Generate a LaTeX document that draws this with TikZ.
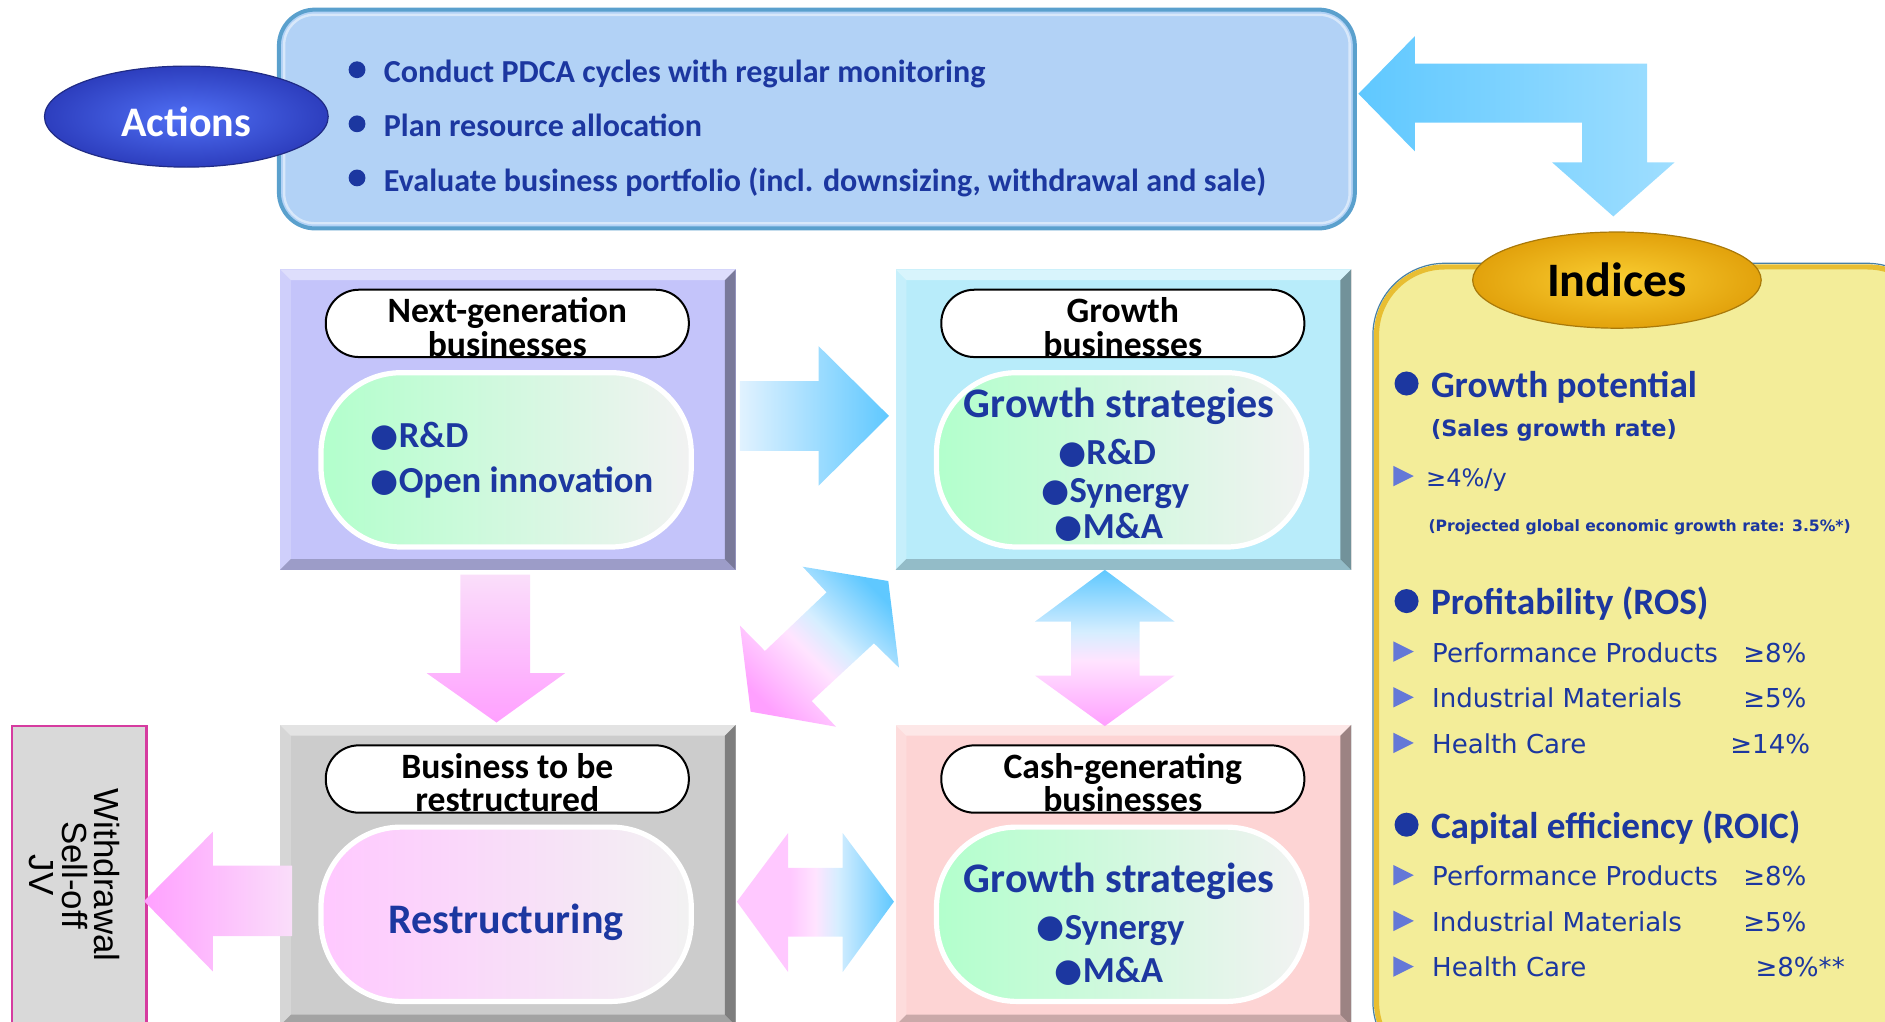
\documentclass[tikz,border=0pt]{standalone}
\usepackage{fontspec}
\usepackage{graphicx}
\setmainfont{Carlito}
\newfontfamily\dejavu{DejaVu Sans}
\newfontfamily\arialf{Liberation Sans}
\usetikzlibrary{calc,shapes.geometric}

\newcommand\fs[2]{\fontsize{#1}{#2}\selectfont}
\newcommand\bul{\raisebox{0.03em}{\scalebox{0.88}{\dejavu ●}}}

\definecolor{tblue}{RGB}{28,55,160}
\definecolor{lav}{RGB}{196,196,250}
\definecolor{cyanbox}{RGB}{184,236,250}
\definecolor{graybox}{RGB}{204,204,204}
\definecolor{pinkbox}{RGB}{253,212,212}
\definecolor{actfill}{RGB}{178,210,246}
\definecolor{actline}{RGB}{90,160,205}
\definecolor{indfill}{RGB}{243,237,153}
\definecolor{indline}{RGB}{232,190,50}
\definecolor{arrblue}{RGB}{95,200,255}
\definecolor{arrpale}{RGB}{225,242,255}
\definecolor{arrmid}{RGB}{205,235,252}
\definecolor{bluewhite}{RGB}{214,238,255}
\definecolor{pinkwhite}{RGB}{255,228,255}
\definecolor{arrpink}{RGB}{255,160,255}
\definecolor{arrpinkL}{RGB}{255,200,255}
\definecolor{arrpinkpale}{RGB}{250,222,250}
\definecolor{trib}{RGB}{100,120,215}
\definecolor{pillgreen}{RGB}{178,255,204}
\definecolor{pillgray}{RGB}{242,242,242}
\definecolor{pillpink}{RGB}{255,200,255}
\definecolor{wdline}{RGB}{214,60,160}
\definecolor{wdfill}{RGB}{217,217,217}
\definecolor{actblueA}{RGB}{80,112,245}
\definecolor{actblueB}{RGB}{45,62,190}
\definecolor{goldA}{RGB}{250,206,50}
\definecolor{goldB}{RGB}{226,162,12}

% blue at the top, pink at the bottom
\pgfdeclareverticalshading{bluepinkV}{100bp}{color(0bp)=(arrpink); color(25bp)=(arrpink);
  color(46bp)=(pinkwhite); color(55bp)=(bluewhite); color(75bp)=(arrblue); color(100bp)=(arrblue)}
% pink on the left, blue on the right
\pgfdeclarehorizontalshading{pinkblueH}{100bp}{color(0bp)=(arrpinkL); color(25bp)=(arrpinkL);
  color(42bp)=(arrpinkL); color(50bp)=(pinkwhite); color(57bp)=(bluewhite); color(75bp)=(arrblue); color(100bp)=(arrblue)}

% raised edge of a business box
\newcommand\bevel[1]{%
  \fill[white,opacity=.45] (#1.north west) -- (#1.north east) -- ($(#1.north east)+(-9,9)$) -- ($(#1.north west)+(9,9)$) -- cycle;
  \fill[white,opacity=.2] (#1.north west) -- ($(#1.north west)+(9,9)$) -- ($(#1.south west)+(9,-9)$) -- (#1.south west) -- cycle;
  \fill[black,opacity=.38] (#1.north east) -- (#1.south east) -- ($(#1.south east)+(-9,-9)$) -- ($(#1.north east)+(-9,9)$) -- cycle;
  \fill[black,opacity=.2] (#1.south west) -- (#1.south east) -- ($(#1.south east)+(-9,-9)$) -- ($(#1.south west)+(9,-9)$) -- cycle;
}

\begin{document}
\begin{tikzpicture}[x=0.6pt,y=-0.6pt,
  bizbox/.style={rectangle, inner sep=0pt, outer sep=0pt, minimum width=227.4pt, minimum height=150pt},
  tagpill/.style={draw=black, line width=1pt, fill=white, rounded corners=16.5pt,
    minimum width=181.2pt, minimum height=33.6pt, inner sep=0pt},
  tagtext/.style={align=center, inner sep=0pt, font=\bfseries\fs{17.8}{16.6}},
  corepill/.style={draw=white, line width=2.6pt, rounded corners=40pt,
    minimum width=184.8pt, minimum height=87pt, inner sep=0pt},
  lowered/.style={yshift=-1.8pt},
  item/.style={lowered, text=tblue, font=\bfseries\fs{18.3}{20}, inner sep=0pt, text height=12pt, text depth=3.5pt},
  strat/.style={lowered, text=tblue, font=\bfseries\fs{21}{24}, inner sep=0pt, text height=14pt, text depth=4pt},
  acttext/.style={lowered, text=tblue, font=\bfseries\fs{16}{18}, inner sep=0pt, text height=10.5pt, text depth=3pt, anchor=west},
  ihead/.style={lowered, text=tblue, font=\bfseries\fs{18.6}{20}, inner sep=0pt, text height=12.5pt, text depth=3.5pt, anchor=west},
  isub/.style={lowered, text=tblue, font=\dejavu\bfseries\fs{11.2}{13}, inner sep=0pt, text height=8pt, text depth=2.2pt, anchor=west},
  inote/.style={lowered, text=tblue, font=\dejavu\bfseries\fs{7.8}{9}, inner sep=0pt, text height=5.6pt, text depth=1.6pt, anchor=west},
  iitem/.style={lowered, text=tblue, font=\dejavu\fs{13}{15}, inner sep=0pt, text height=9.4pt, text depth=2.6pt},
  tri/.style={fill=trib},
  toblue/.style={left color=arrpale, right color=arrblue},
]
\useasboundingbox (0,0) rectangle (1568,850);
\clip (0,0) rectangle (1568,850);

% ---------- Actions ----------
\node[rectangle, rounded corners=18pt, minimum width=537pt, minimum height=109.2pt,
      fill=actfill, draw=actline, line width=2pt, inner sep=0pt] (actions) at (679.5,99) {};
\draw[white, opacity=.5, line width=1.2pt, rounded corners=15pt]
  ($(actions.north west)+(6,6)$) rectangle ($(actions.south east)+(-6,-6)$);
\node[ellipse, minimum width=141.6pt, minimum height=50.4pt, inner color=actblueA, outer color=actblueB,
      draw=actblueB!70!black, line width=.6pt, inner sep=0pt] (actlabel) at (155,97) {};
\node[text=white, font=\bfseries\fs{21}{24}, inner sep=0pt] (actlabelText) at (155,101) {Actions};

\fill[tblue] (297,58) circle (7);
\fill[tblue] (297,103) circle (7);
\fill[tblue] (297,148) circle (7);
\node[acttext] (act1) at (319,59) {Conduct PDCA cycles with regular monitoring};
\node[acttext] (act2) at (319,104) {Plan resource allocation};
\node[acttext] (act3) at (319,150) {Evaluate business portfolio (incl. downsizing, withdrawal and sale)};

% ---------- Indices ----------
\draw[fill=indfill, draw=indline, line width=2.6pt, rounded corners=34pt] (1145,222) rectangle (1610,890);
\draw[draw=actline!80!black, line width=.6pt, rounded corners=36pt] (1142,219) rectangle (1613,893);

% feedback arrow between actions and indices
\shade[left color=arrblue, middle color=arrmid, right color=arrblue!60!white]
  (1130,78) -- (1177,30) -- (1177,53) -- (1370,53) -- (1370,135) -- (1393,135) -- (1342,180)
  -- (1291,135) -- (1316,135) -- (1316,102) -- (1177,102) -- (1177,126) -- cycle;

\node[ellipse, minimum width=144pt, minimum height=48pt, inner color=goldA, outer color=goldB,
      draw=goldB!75!black, line width=.6pt, font=\bfseries\fs{24}{28}] (indlabel) at (1345,233) {Indices};

\fill[tblue] (1170,319) circle (10);
\node[ihead] (gp) at (1190,320) {Growth potential};
\node[isub] (gpsub) at (1190,355) {(Sales growth rate)};
\fill[tri] (1159,387.5) -- (1176,396) -- (1159,404.5) -- cycle;
\node[iitem, anchor=west, font=\dejavu\fs{12}{14}] (gpval) at (1186,396) {≥4\%/y};
\node[inote] (gpnote) at (1188,436) {(Projected global economic growth rate: 3.5\%*)};

\fill[tblue] (1170,500) circle (10);
\node[ihead] (ros) at (1190,501) {Profitability (ROS)};
\foreach \yy/\nm/\vv/\sfx in {542/Performance Products/≥8\%/a, 580/Industrial Materials/≥5\%/b} {
  \fill[tri] (1159,\yy-8.5) -- (1176,\yy) -- (1159,\yy+8.5) -- cycle;
  \node[iitem, anchor=west] (ros\sfx) at (1191,\yy) {\nm};
  \node[iitem, anchor=east] (rosv\sfx) at (1503,\yy) {\vv};
}
\fill[tri] (1159,609.5) -- (1176,618) -- (1159,626.5) -- cycle;
\node[iitem, anchor=west] (rosc) at (1191,618) {Health Care};
\node[iitem, anchor=east] (rosvc) at (1506,618) {≥14\%};

\fill[tblue] (1170,686) circle (10);
\node[ihead] (roic) at (1190,687) {Capital efficiency (ROIC)};
\foreach \yy/\nm/\vv/\sfx in {728/Performance Products/≥8\%/a, 766/Industrial Materials/≥5\%/b} {
  \fill[tri] (1159,\yy-8.5) -- (1176,\yy) -- (1159,\yy+8.5) -- cycle;
  \node[iitem, anchor=west] (roic\sfx) at (1191,\yy) {\nm};
  \node[iitem, anchor=east] (roicv\sfx) at (1503,\yy) {\vv};
}
\fill[tri] (1159,795.5) -- (1176,804) -- (1159,812.5) -- cycle;
\node[iitem, anchor=west] (roicc) at (1191,804) {Health Care};
\node[iitem, anchor=west] (roicvc) at (1460,804) {≥8\%**};

% ---------- Business boxes ----------
\node[bizbox, fill=lav] (nextgen) at (422.5,349) {};
\bevel{nextgen}
\node[tagpill] (nextgenTag) at (422,269) {};
\node[tagtext] (nextgenTagText) at (422,272) {Next-generation\\businesses};
\node[corepill, left color=pillgreen, right color=pillgray] (nextgenCore) at (421,382.5) {};
\node[item, anchor=west] (ng1) at (308,362) {\bul R\&D};
\node[item, anchor=west] (ng2) at (308,400) {\bul Open innovation};

\node[bizbox, fill=cyanbox] (growth) at (934.5,349) {};
\bevel{growth}
\node[tagpill] (growthTag) at (934,269) {};
\node[tagtext] (growthTagText) at (934,272) {Growth\\businesses};
\node[corepill, left color=pillgreen, right color=pillgray] (growthCore) at (933,382.5) {};
\node[strat] (gs) at (931,336) {Growth strategies};
\node[item, anchor=west] (gs1) at (880,376) {\bul R\&D};
\node[item, anchor=west] (gs2) at (866,408) {\bul Synergy};
\node[item, anchor=west] (gs3) at (877,438) {\bul M\&A};

\node[bizbox, fill=graybox] (restr) at (422.5,728) {};
\bevel{restr}
\node[tagpill] (restrTag) at (422,648) {};
\node[tagtext] (restrTagText) at (422,651) {Business to be\\restructured};
\node[corepill, left color=pillpink, right color=pillgray] (restrCore) at (421,760.5) {};
\node[strat] (rs) at (421,765) {Restructuring};

\node[bizbox, fill=pinkbox] (cash) at (934.5,728) {};
\bevel{cash}
\node[tagpill] (cashTag) at (934,648) {};
\node[tagtext] (cashTagText) at (934,651) {Cash-generating\\businesses};
\node[corepill, left color=pillgreen, right color=pillgray] (cashCore) at (933,760.5) {};
\node[strat] (cs) at (931,731) {Growth strategies};
\node[item, anchor=west] (cs1) at (862,771) {\bul Synergy};
\node[item, anchor=west] (cs2) at (877,807) {\bul M\&A};

% ---------- Exit box ----------
\node[rectangle, anchor=north west, draw=wdline, fill=wdfill, line width=1.2pt,
      minimum width=67.2pt, minimum height=168pt, inner sep=0pt] (exit) at (9,603) {};
\node[rotate=-90, align=center, font=\arialf\fs{17.4}{16.2}, inner sep=0pt] (exitText) at (62,728)
  {Withdrawal\\Sell-off\\JV};

% ---------- Block arrows ----------
% next-generation -> growth
\shade[toblue] (615.5,317) -- (681,317) -- (681,288) -- (739.5,346) -- (681,404) -- (681,375) -- (615.5,375) -- cycle;
% next-generation -> restructuring
\shade[top color=arrpinkpale, bottom color=arrpink]
  (383,478) -- (441,478) -- (441,560) -- (470,560) -- (413,601) -- (355,560) -- (383,560) -- cycle;
% restructuring <-> growth
\shade[shading=bluepinkV, shading angle=-45]
  (738.9,483.3) -- (747.8,555.4) -- (727,535.1) -- (675.2,583.1) -- (695.4,604.5) -- (624.4,592)
  -- (615.5,520.4) -- (636.3,541.5) -- (687.6,492.7) -- (667.7,471.4) -- cycle;
% growth <-> cash-generating
\shade[shading=bluepinkV]
  (919,474) -- (977,517) -- (948,517) -- (948,562) -- (977,562) -- (919,604) -- (861,562)
  -- (891,562) -- (891,517) -- (861,517) -- cycle;
% restructuring <-> cash-generating
\shade[shading=pinkblueH]
  (613,750) -- (655.5,693) -- (655.5,722) -- (701,722) -- (701,693) -- (743.6,750) -- (701,808.5)
  -- (701,779) -- (655.5,779) -- (655.5,808.5) -- cycle;
% restructuring -> exit
\shade[left color=arrpink, right color=arrpinkpale]
  (119.8,749.5) -- (177,692) -- (177,720) -- (243,720) -- (243,778.6) -- (177,778.6) -- (177,808) -- cycle;
\end{tikzpicture}
\end{document}
